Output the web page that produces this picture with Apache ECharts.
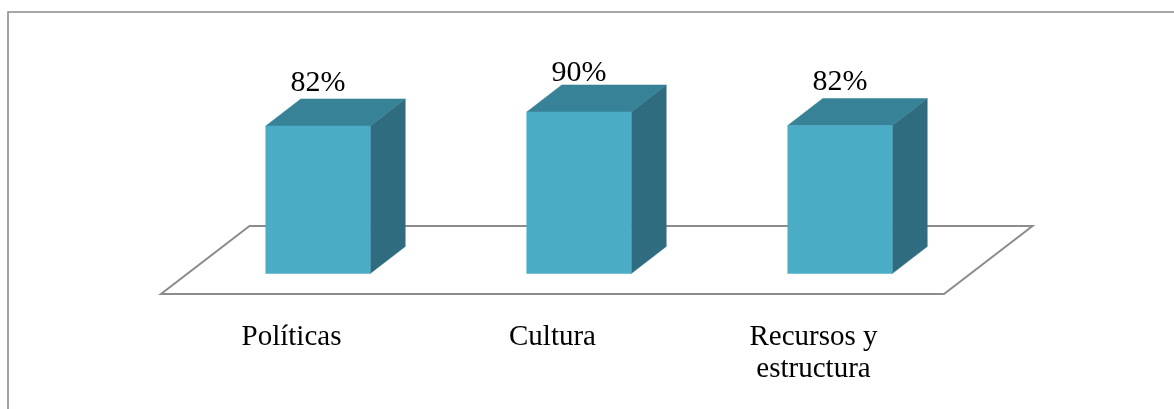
<!DOCTYPE html>
<html>
<head>
<meta charset="utf-8">
<style>html,body{margin:0;padding:0;background:#fff}#c{width:1174px;height:409px}</style>
<script src="https://cdn.jsdelivr.net/npm/echarts@6/dist/echarts.min.js"></script>
</head>
<body>
<div id="c"></div>
<script>
var categories = ['Políticas', 'Cultura', 'Recursos y\nestructura'];
var values = [82.2, 90, 82.45];
var floorRow = [0];

var FONT = '"Liberation Serif", serif';
var AXIS_FONT_SIZE = 29;
var VALUE_FONT_SIZE = 30;
var FRONT = '#4bacc6', TOP = '#388298', SIDE = '#306c7f', LINE = '#8c8c8c';
var DEPTH_X = 35, DEPTH_Y = 27;
var BAR_RATIO = 104.5 / 261;
var SHIFT_X = 26.5;

function poly(points, fill) {
  return { type: 'polygon', shape: { points: points }, style: { fill: fill, stroke: fill, lineWidth: 0.5 } };
}

function renderBar(params, api) {
  var base = api.coord([api.value(0), 0]);
  var top = api.coord([api.value(0), api.value(1)]);
  var w = api.size([1, 0])[0] * BAR_RATIO;
  var cx = base[0] + SHIFT_X;
  var l = cx - w / 2, r = cx + w / 2, y0 = base[1], y1 = top[1];
  var labelBottom = Math.max(y1 - 28, params.coordSys.y - 6);
  return {
    type: 'group',
    children: [
      poly([[r, y1], [r + DEPTH_X, y1 - DEPTH_Y], [r + DEPTH_X, y0 - DEPTH_Y], [r, y0]], SIDE),
      poly([[l, y1], [l + DEPTH_X, y1 - DEPTH_Y], [r + DEPTH_X, y1 - DEPTH_Y], [r, y1]], TOP),
      poly([[l, y0], [l, y1], [r, y1], [r, y0]], FRONT),
      {
        type: 'text',
        style: {
          text: Math.round(api.value(1)) + '%',
          x: cx, y: labelBottom,
          align: 'center', verticalAlign: 'bottom',
          font: VALUE_FONT_SIZE + 'px ' + FONT, fill: '#000'
        }
      }
    ]
  };
}

function renderFloor(params) {
  var g = params.coordSys;
  var yFront = g.y + g.height + 20.5, yBack = g.y + g.height - 47.5;
  var xl = g.x, xr = g.x + g.width, off = 88.5;
  return {
    type: 'polygon',
    shape: { points: [[xl, yFront], [xr, yFront], [xr + off, yBack], [xl + off, yBack]] },
    style: { fill: '#fff', stroke: LINE, lineWidth: 2 }
  };
}

var chart = echarts.init(document.getElementById('c'), null, { renderer: 'canvas' });
chart.setOption({
  animation: false,
  backgroundColor: '#fff',
  graphic: [{
    type: 'polyline',
    shape: { points: [[8, 409], [8, 12], [1174, 12]] },
    style: { fill: null, stroke: LINE, lineWidth: 1.6 },
    silent: true
  }],
  grid: { left: 161, width: 783, top: 94, height: 179.5 },
  xAxis: {
    type: 'category',
    data: categories,
    axisLine: { show: false },
    axisTick: { show: false },
    axisLabel: {
      interval: 0, margin: 48, color: '#000',
      fontFamily: FONT, fontSize: AXIS_FONT_SIZE, lineHeight: 32
    }
  },
  yAxis: { type: 'value', min: 0, max: 100, show: false, splitLine: { show: false } },
  series: [
    { type: 'custom', data: floorRow.map(function (v) { return [v, 0]; }), renderItem: renderFloor, z: 1, clip: false, silent: true },
    { type: 'custom', data: values.map(function (v, i) { return [i, v]; }), encode: { x: 0, y: 1 }, renderItem: renderBar, z: 2, clip: false }
  ]
});
</script>
</body>
</html>
